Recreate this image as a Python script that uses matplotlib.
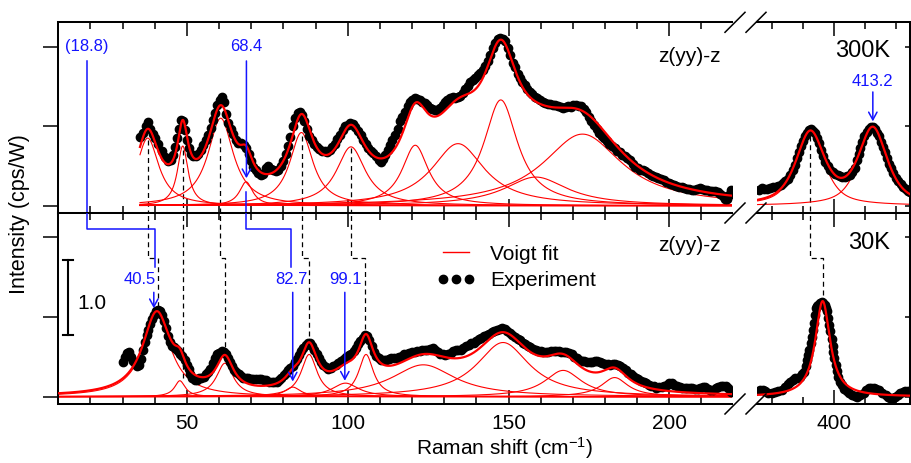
import numpy as np
import matplotlib
matplotlib.use('Agg')
import matplotlib.pyplot as plt
from matplotlib.lines import Line2D
from matplotlib.ticker import MultipleLocator, FixedLocator

plt.rcParams['font.family'] = ['Liberation Sans', 'DejaVu Sans']
plt.rcParams['mathtext.fontset'] = 'custom'
plt.rcParams['mathtext.rm'] = 'Liberation Sans'
plt.rcParams['mathtext.it'] = 'Liberation Sans:italic'
plt.rcParams['mathtext.bf'] = 'Liberation Sans:bold'

exp300_low = [
    (35.4, 0.86), (36.4, 0.92), (37.2, 1.00), (37.8, 1.05), (38.5, 0.96), (39.3, 0.90), (40.1, 0.85),
    (41.1, 0.77), (42.1, 0.69), (43.2, 0.61), (44.2, 0.56), (45.0, 0.58), (45.7, 0.64), (46.4, 0.74),
    (47.0, 0.85), (47.6, 0.97), (48.3, 1.08), (48.9, 1.07), (49.4, 0.95), (49.9, 0.83), (50.6, 0.72),
    (51.3, 0.65), (52.0, 0.62), (52.8, 0.62), (53.5, 0.65), (54.3, 0.70), (55.1, 0.76), (55.9, 0.82),
    (56.6, 0.89), (57.4, 0.98), (58.1, 1.08), (58.8, 1.17), (59.5, 1.26), (60.2, 1.33), (60.8, 1.37),
    (61.5, 1.30), (62.3, 1.15), (62.9, 1.04), (63.6, 0.96), (64.4, 0.90), (65.2, 0.83), (66.0, 0.79),
    (66.8, 0.79), (67.6, 0.76), (68.4, 0.73), (69.2, 0.65), (69.9, 0.56), (70.6, 0.49), (71.4, 0.45),
    (72.2, 0.41), (72.9, 0.39), (73.7, 0.40), (74.5, 0.47), (75.2, 0.50), (76.0, 0.46), (76.8, 0.45),
    (77.6, 0.44), (78.4, 0.45), (79.2, 0.50), (80.0, 0.56), (80.8, 0.65), (81.5, 0.75), (82.2, 0.86),
    (83.0, 1.00), (83.7, 1.10), (84.4, 1.16), (85.1, 1.18), (85.8, 1.14), (86.5, 1.07), (87.2, 0.96),
    (88.0, 0.88), (88.8, 0.83), (89.6, 0.78), (90.4, 0.74), (91.2, 0.71), (92.0, 0.69), (92.8, 0.69),
    (93.6, 0.68), (94.4, 0.70), (95.2, 0.74), (96.0, 0.78), (96.8, 0.84), (97.6, 0.89), (98.4, 0.95),
    (99.2, 1.00), (100.0, 1.02), (100.8, 1.04), (101.6, 1.03), (102.4, 0.99), (103.2, 0.94), (104.0, 0.89),
    (104.8, 0.83), (105.6, 0.78), (106.4, 0.73), (107.2, 0.69), (108.0, 0.66), (108.8, 0.63), (109.6, 0.58),
    (110.3, 0.55), (111.0, 0.59), (111.7, 0.64), (112.4, 0.70), (113.1, 0.76), (113.9, 0.83), (114.7, 0.89),
    (115.5, 0.97), (116.2, 1.06), (117.0, 1.12), (117.8, 1.18), (118.6, 1.25), (119.3, 1.30), (120.1, 1.33),
    (120.9, 1.35), (121.7, 1.34), (122.4, 1.33), (123.2, 1.31), (124.0, 1.29), (124.8, 1.26), (125.5, 1.23),
    (126.3, 1.21), (127.1, 1.20), (127.9, 1.20), (128.7, 1.23), (129.5, 1.26), (130.2, 1.30), (131.0, 1.33),
    (131.8, 1.36), (132.6, 1.37), (133.4, 1.36), (134.2, 1.37), (135.0, 1.38), (135.8, 1.42), (136.6, 1.47),
    (137.3, 1.51), (138.1, 1.55), (138.9, 1.58), (139.7, 1.61), (140.5, 1.64), (141.2, 1.67), (142.0, 1.71),
    (142.8, 1.76), (143.6, 1.82), (144.3, 1.90), (145.1, 1.98), (145.9, 2.05), (146.7, 2.09), (147.4, 2.11),
    (148.2, 2.10), (149.0, 2.07), (149.7, 1.98), (150.5, 1.90), (151.3, 1.80), (152.0, 1.74), (152.8, 1.66),
    (153.6, 1.60), (154.3, 1.55), (155.1, 1.52), (155.9, 1.47), (156.6, 1.43), (157.4, 1.40), (158.2, 1.37),
    (159.0, 1.35), (159.8, 1.33), (160.6, 1.31), (161.4, 1.29), (162.2, 1.28), (163.0, 1.28), (163.8, 1.27),
    (164.6, 1.26), (165.4, 1.25), (166.2, 1.24), (167.0, 1.23), (167.8, 1.24), (168.6, 1.25), (169.4, 1.24),
    (170.2, 1.26), (171.0, 1.26), (171.8, 1.25), (172.6, 1.25), (173.4, 1.22), (174.2, 1.18), (175.0, 1.12),
    (175.8, 1.06), (176.6, 1.01), (177.4, 0.97), (178.2, 0.92), (179.0, 0.88), (179.8, 0.85), (180.6, 0.81),
    (181.4, 0.78), (182.2, 0.75), (183.0, 0.72), (183.8, 0.69), (184.6, 0.67), (185.4, 0.64), (186.2, 0.62),
    (187.0, 0.60), (187.8, 0.57), (188.6, 0.52), (189.4, 0.49), (190.2, 0.47), (191.0, 0.45), (191.8, 0.45),
    (192.6, 0.43), (193.4, 0.41), (194.2, 0.39), (195.0, 0.37), (195.8, 0.36), (196.6, 0.35), (197.4, 0.34),
    (198.2, 0.32), (199.0, 0.30), (199.8, 0.29), (200.6, 0.27), (201.4, 0.26), (202.2, 0.25), (203.0, 0.24),
    (203.8, 0.23), (204.6, 0.22), (205.4, 0.21), (206.2, 0.21), (207.0, 0.20), (207.8, 0.20), (208.6, 0.21),
    (209.4, 0.22), (210.2, 0.21), (211.0, 0.20), (211.8, 0.20), (212.6, 0.19), (213.4, 0.19), (214.2, 0.18),
    (215.0, 0.17), (215.8, 0.15), (216.6, 0.12), (217.3, 0.09), (218.0, 0.08), (218.7, 0.13), (219.2, 0.20),
]
exp300_high = [
    (375.8, 0.20), (376.6, 0.22), (377.4, 0.21), (378.3, 0.21), (379.2, 0.22), (380.1, 0.24), (381.0, 0.24),
    (381.8, 0.25), (382.6, 0.26), (383.4, 0.28), (384.2, 0.31), (385.0, 0.34), (385.7, 0.39), (386.5, 0.45),
    (387.2, 0.51), (387.9, 0.60), (388.5, 0.68), (389.1, 0.75), (389.7, 0.81), (390.4, 0.88), (391.0, 0.92),
    (391.7, 0.95), (392.4, 0.96), (393.1, 0.94), (393.8, 0.91), (394.4, 0.85), (395.0, 0.79), (395.7, 0.70),
    (396.4, 0.62), (397.1, 0.55), (397.8, 0.50), (398.6, 0.45), (399.4, 0.42), (400.2, 0.40), (401.0, 0.38),
    (401.8, 0.37), (402.6, 0.36), (403.4, 0.36), (404.2, 0.37), (405.0, 0.39), (405.8, 0.42), (406.5, 0.47),
    (407.2, 0.57), (407.8, 0.65), (408.4, 0.73), (409.0, 0.80), (409.7, 0.88), (410.4, 0.93), (411.1, 0.97),
    (411.8, 0.99), (412.5, 0.99), (413.2, 0.97), (413.9, 0.92), (414.5, 0.87), (415.1, 0.80), (415.7, 0.74),
    (416.3, 0.67), (416.9, 0.60), (417.5, 0.53), (418.2, 0.47), (419.0, 0.41), (419.8, 0.35), (420.6, 0.31),
    (421.4, 0.27), (422.2, 0.24), (423.0, 0.21), (423.8, 0.18), (424.3, 0.17),
]
exp30_low = [
    (30.2, 0.44), (30.8, 0.50), (31.4, 0.55), (32.1, 0.56), (32.7, 0.50), (33.3, 0.45), (33.9, 0.42),
    (34.5, 0.39), (35.1, 0.40), (35.7, 0.47), (36.3, 0.58), (36.9, 0.69), (37.5, 0.77), (38.0, 0.84),
    (38.6, 0.91), (39.2, 0.97), (39.8, 1.03), (40.4, 1.07), (41.1, 1.09), (41.7, 1.08), (42.3, 1.03),
    (42.9, 0.95), (43.5, 0.86), (44.1, 0.76), (44.8, 0.69), (45.4, 0.64), (46.0, 0.62), (46.7, 0.60),
    (47.3, 0.57), (48.0, 0.54), (48.6, 0.51), (49.3, 0.46), (49.9, 0.40), (50.5, 0.35), (51.1, 0.29),
    (51.7, 0.24), (52.4, 0.21), (53.1, 0.21), (53.8, 0.23), (54.5, 0.24), (55.2, 0.25), (55.9, 0.28),
    (56.6, 0.31), (57.3, 0.35), (58.0, 0.42), (58.7, 0.48), (59.4, 0.53), (60.1, 0.55), (60.8, 0.57),
    (61.5, 0.56), (62.2, 0.53), (62.8, 0.48), (63.4, 0.44), (64.0, 0.39), (64.7, 0.34), (65.4, 0.31),
    (66.1, 0.28), (66.8, 0.26), (67.5, 0.24), (68.3, 0.23), (69.1, 0.23), (69.9, 0.22), (70.7, 0.22),
    (71.5, 0.22), (72.3, 0.22), (73.1, 0.22), (73.9, 0.21), (74.7, 0.21), (75.5, 0.19), (76.3, 0.18),
    (77.1, 0.18), (77.9, 0.19), (78.7, 0.21), (79.4, 0.24), (80.1, 0.27), (80.8, 0.30), (81.5, 0.33),
    (82.2, 0.36), (82.9, 0.39), (83.6, 0.43), (84.3, 0.47), (85.0, 0.52), (85.6, 0.57), (86.2, 0.61),
    (86.9, 0.65), (87.6, 0.67), (88.3, 0.67), (89.0, 0.64), (89.6, 0.59), (90.3, 0.54), (91.0, 0.48),
    (91.7, 0.43), (92.4, 0.40), (93.1, 0.37), (93.9, 0.35), (94.7, 0.36), (95.5, 0.38), (96.3, 0.40),
    (97.1, 0.42), (97.9, 0.45), (98.7, 0.47), (99.5, 0.50), (100.3, 0.52), (101.1, 0.54), (101.8, 0.57),
    (102.5, 0.61), (103.2, 0.66), (103.9, 0.70), (104.6, 0.74), (105.3, 0.77), (106.0, 0.76), (106.7, 0.71),
    (107.4, 0.63), (108.1, 0.56), (108.8, 0.51), (109.6, 0.48), (110.4, 0.46), (111.2, 0.46), (112.0, 0.46),
    (112.8, 0.47), (113.6, 0.48), (114.4, 0.48), (115.2, 0.49), (116.0, 0.50), (116.8, 0.51), (117.6, 0.53),
    (118.4, 0.54), (119.2, 0.55), (120.0, 0.56), (120.8, 0.56), (121.6, 0.57), (122.4, 0.57), (123.2, 0.58),
    (124.0, 0.58), (124.8, 0.59), (125.6, 0.60), (126.4, 0.61), (127.2, 0.59), (128.0, 0.56), (128.8, 0.54),
    (129.6, 0.53), (130.4, 0.52), (131.2, 0.53), (132.0, 0.55), (132.8, 0.57), (133.6, 0.58), (134.4, 0.58),
    (135.2, 0.59), (136.0, 0.61), (136.8, 0.63), (137.6, 0.65), (138.4, 0.67), (139.2, 0.68), (140.0, 0.70),
    (140.8, 0.72), (141.6, 0.74), (142.4, 0.76), (143.2, 0.77), (144.0, 0.79), (144.8, 0.81), (145.6, 0.82),
    (146.4, 0.84), (147.2, 0.85), (148.0, 0.86), (148.8, 0.85), (149.6, 0.83), (150.4, 0.80), (151.2, 0.78),
    (152.0, 0.75), (152.8, 0.73), (153.6, 0.71), (154.4, 0.68), (155.2, 0.66), (156.0, 0.64), (156.8, 0.62),
    (157.6, 0.60), (158.4, 0.58), (159.2, 0.57), (160.0, 0.57), (160.8, 0.565), (161.6, 0.56), (162.4, 0.565),
    (163.2, 0.57), (164.0, 0.57), (164.8, 0.57), (165.6, 0.57), (166.4, 0.565), (167.2, 0.565), (168.0, 0.56),
    (168.8, 0.55), (169.6, 0.53), (170.4, 0.50), (171.2, 0.48), (172.0, 0.46), (172.8, 0.45), (173.6, 0.45),
    (174.4, 0.44), (175.2, 0.44), (176.0, 0.44), (176.8, 0.45), (177.6, 0.45), (178.4, 0.44), (179.2, 0.42),
    (180.0, 0.41), (180.8, 0.41), (181.6, 0.40), (182.4, 0.41), (183.2, 0.41), (184.0, 0.40), (184.8, 0.38),
    (185.6, 0.355), (186.4, 0.33), (187.2, 0.30), (188.0, 0.28), (188.8, 0.26), (189.6, 0.24), (190.4, 0.22),
    (191.2, 0.20), (192.0, 0.19), (192.8, 0.17), (193.6, 0.15), (194.4, 0.14), (195.2, 0.13), (196.0, 0.115),
    (196.8, 0.12), (197.6, 0.12), (198.4, 0.13), (199.2, 0.15), (200.0, 0.17), (200.8, 0.175), (201.6, 0.15),
    (202.4, 0.13), (203.2, 0.12), (204.0, 0.11), (204.8, 0.105), (205.6, 0.11), (206.4, 0.115), (207.2, 0.11),
    (208.0, 0.10), (208.8, 0.10), (209.6, 0.11), (210.4, 0.12), (211.2, 0.12), (212.0, 0.10), (212.8, 0.085),
    (213.6, 0.09), (214.4, 0.11), (215.2, 0.125), (216.0, 0.13), (216.8, 0.14), (217.6, 0.13), (218.4, 0.115),
    (219.2, 0.06),
]
exp30_high = [
    (376.0, 0.09), (376.8, 0.08), (377.6, 0.065), (378.6, 0.05), (379.7, 0.045), (380.8, 0.055), (381.9, 0.065),
    (383.0, 0.09), (384.0, 0.125), (384.9, 0.16), (385.7, 0.19), (386.5, 0.21), (387.3, 0.23), (388.1, 0.24),
    (388.9, 0.25), (389.6, 0.28), (390.2, 0.31), (390.7, 0.38), (391.1, 0.46), (391.5, 0.52), (391.9, 0.585),
    (392.3, 0.67), (392.7, 0.75), (393.1, 0.84), (393.4, 0.92), (393.8, 1.02), (394.1, 1.11), (394.5, 1.14),
    (394.8, 1.15), (395.3, 1.17), (395.9, 1.19), (396.4, 1.17), (397.0, 1.15), (397.4, 1.11), (397.7, 1.07),
    (398.0, 0.99), (398.3, 0.90), (398.7, 0.82), (399.1, 0.73), (399.4, 0.64), (399.6, 0.565), (400.0, 0.48),
    (400.5, 0.40), (400.9, 0.32), (401.3, 0.25), (401.8, 0.19), (402.3, 0.145), (403.1, 0.10), (404.0, 0.065),
    (404.8, 0.04), (405.6, 0.025), (406.5, 0.01), (407.3, 0.0), (408.4, 0.02), (409.5, 0.045), (410.3, 0.08),
    (411.1, 0.105), (411.9, 0.115), (412.7, 0.115), (413.5, 0.10), (414.3, 0.086), (415.4, 0.05), (416.5, 0.025),
    (417.3, 0.0), (418.1, -0.015), (418.9, -0.015), (419.7, -0.007), (420.5, 0.02), (421.3, 0.045),
    (422.1, 0.055), (422.9, 0.065), (423.7, 0.065), (424.3, 0.07),
]

# ---------------- Voigt-fit components (centre, height, half width, Lorentz fraction) ----------------
fit300_low_centre = [37.8, 48.7, 60.5, 68.4, 85.6, 101.0, 121.0, 134.3, 147.6, 158.5, 173.0]
fit300_low_height = [0.85, 0.75, 1.10, 0.30, 0.92, 0.74, 0.76, 0.78, 1.33, 0.36, 0.90]
fit300_low_width = [4.2, 2.0, 4.8, 2.5, 4.4, 5.5, 5.0, 10.0, 6.4, 12.0, 15.0]
fit300_low_eta = [1.0] * 11

fit300_high_centre = [392.2, 412.4]
fit300_high_height = [0.90, 0.95]
fit300_high_width = [5.5, 5.5]
fit300_high_eta = [0.7, 0.7]

fit30_low_centre = [40.6, 47.8, 61.8, 82.9, 88.0, 99.3, 105.7, 123.5, 148.3, 167.0, 183.0]
fit30_low_height = [1.03, 0.20, 0.42, 0.12, 0.53, 0.17, 0.53, 0.40, 0.68, 0.33, 0.24]
fit30_low_width = [5.3, 2.0, 3.2, 3.0, 3.0, 5.0, 2.8, 12.0, 10.0, 7.0, 5.0]
fit30_low_eta = [1.0] * 11

fit30_high_centre = [396.2]
fit30_high_height = [1.20]
fit30_high_width = [2.9]
fit30_high_eta = [1.0]

# mode links between 300 K and 30 K (x in top panel, x in bottom panel)
link_low_top = [38.0, 48.7, 60.3, 85.7, 101.1]
link_low_bottom = [41.0, 48.7, 61.7, 88.0, 105.5]
link_low_ystart = [0.83, 0.70, 0.85, 0.87, 0.72]
link_low_yend = [1.12, 0.21, 0.57, 0.69, 0.80]
link_high_top = [392.0]
link_high_bottom = [396.3]
link_high_ystart = [0.87]
link_high_yend = [1.21]

BLUE = '#1414ff'
RED = '#ff0000'
W, H = 912, 463


def voigt(x, c, h, w, eta):
    u = (x - c) / w
    return h * (eta / (1.0 + u ** 2) + (1.0 - eta) * np.exp(-np.log(2.0) * u ** 2))


def fig_rect(x0, y0, x1, y1):
    return [x0 / W, 1 - y1 / H, (x1 - x0) / W, (y1 - y0) / H]


fig = plt.figure(figsize=(W / 100, H / 100), dpi=100)
ax_tl = fig.add_axes(fig_rect(58.3, 22.3, 732, 213))
ax_tr = fig.add_axes(fig_rect(757, 22.3, 910, 213))
ax_bl = fig.add_axes(fig_rect(58.3, 213, 732, 404))
ax_br = fig.add_axes(fig_rect(757, 213, 910, 404))

YLIM = (-0.092, 2.306)


def draw_segment(ax, exp, centres, heights, widths, etas, xr):
    ex = [p[0] for p in exp]
    ey = [p[1] for p in exp]
    ax.plot(ex, ey, ls='none', marker='o', ms=6, color='black', zorder=3)
    x = np.linspace(xr[0], xr[1], 1500)
    total = np.zeros_like(x)
    for c, h, w, e in zip(centres, heights, widths, etas):
        comp = voigt(x, c, h, w, e)
        total += comp
        if len(centres) > 1:
            ax.plot(x, comp, color=RED, lw=0.8, zorder=2)
    ax.plot(x, total, color=RED, lw=1.6, zorder=4)


draw_segment(ax_tl, exp300_low, fit300_low_centre, fit300_low_height, fit300_low_width,
             fit300_low_eta, (35.4, 219.4))
draw_segment(ax_tr, exp300_high, fit300_high_centre, fit300_high_height, fit300_high_width,
             fit300_high_eta, (375.2, 424.4))
draw_segment(ax_bl, exp30_low, fit30_low_centre, fit30_low_height, fit30_low_width,
             fit30_low_eta, (10.0, 219.4))
draw_segment(ax_br, exp30_high, fit30_high_centre, fit30_high_height, fit30_high_width,
             fit30_high_eta, (375.2, 424.4))


def style(ax, side, labels):
    ax.set_ylim(*YLIM)
    for sp in ax.spines.values():
        sp.set_linewidth(1.45)
    ax.set_yticks([0, 1, 2])
    if side == 'left':
        ax.set_xlim(10, 219.5)
        ax.spines['right'].set_visible(False)
        ax.yaxis.set_ticks_position('left')
        ax.tick_params(axis='y', direction='out', length=10.8, width=1.1, labelleft=False)
        ax.xaxis.set_major_locator(MultipleLocator(50))
        ax.xaxis.set_minor_locator(MultipleLocator(10))
    else:
        ax.set_xlim(375, 424.4)
        ax.spines['left'].set_visible(False)
        ax.yaxis.set_ticks_position('right')
        ax.tick_params(axis='y', direction='in', length=3.6, width=1.1, labelright=False)
        ax.xaxis.set_major_locator(FixedLocator([400]))
        ax.xaxis.set_minor_locator(FixedLocator([380, 390, 410, 420]))
    ax.tick_params(axis='x', which='major', direction='in', length=10, width=1.1,
                   top=True, bottom=True, labelbottom=labels, labelsize=15, pad=7)
    ax.tick_params(axis='x', which='minor', direction='in', length=5, width=1.1,
                   top=True, bottom=True)


style(ax_tl, 'left', False)
style(ax_tr, 'right', False)
style(ax_bl, 'left', True)
style(ax_br, 'right', True)

# dashed links
dash = dict(color='black', lw=0.9, ls=(0, (4, 3)), zorder=1)
for xt, xb, ys, ye in zip(link_low_top, link_low_bottom, link_low_ystart, link_low_yend):
    ax_tl.plot([xt, xt], [ys, -0.3], **dash)
    ax_bl.plot([xt, xt, xb, xb], [2.5, 1.74, 1.74, ye], **dash)
for xt, xb, ys, ye in zip(link_high_top, link_high_bottom, link_high_ystart, link_high_yend):
    ax_tr.plot([xt, xt], [ys, -0.3], **dash)
    ax_br.plot([xt, xt, xb, xb], [2.5, 1.74, 1.74, ye], **dash)


# blue annotations
def arrow(ax, x, y0, y1):
    ax.annotate('', xy=(x, y1), xytext=(x, y0),
                arrowprops=dict(arrowstyle='->,head_length=0.55,head_width=0.3', color=BLUE,
                                lw=1.1, shrinkA=0, shrinkB=0, mutation_scale=10), zorder=6)


bl = dict(color=BLUE, lw=1.1, zorder=6)
ax_tl.text(18.8, 2.0, '(18.8)', color=BLUE, fontsize=12, ha='center', va='center')
ax_tl.plot([18.8, 18.8], [1.82, -0.3], **bl)
ax_tl.text(68.5, 2.0, '68.4', color=BLUE, fontsize=12, ha='center', va='center')
arrow(ax_tl, 68.5, 1.82, 0.345)
ax_tl.plot([68.5, 68.5], [0.176, -0.3], **bl)

ax_bl.plot([18.8, 18.8, 40.1, 40.1], [2.5, 2.10, 2.10, 1.63], **bl)
ax_bl.text(40.4, 1.47, '40.5', color=BLUE, fontsize=12, ha='right', va='center')
arrow(ax_bl, 39.7, 1.31, 1.11)
ax_bl.plot([68.5, 68.5, 82.3, 82.3], [2.5, 2.10, 2.10, 1.63], **bl)
ax_bl.text(82.5, 1.47, '82.7', color=BLUE, fontsize=12, ha='center', va='center')
arrow(ax_bl, 82.9, 1.31, 0.19)
ax_bl.text(99.2, 1.47, '99.1', color=BLUE, fontsize=12, ha='center', va='center')
arrow(ax_bl, 99.1, 1.31, 0.20)

ax_tr.text(412.4, 1.56, '413.2', color=BLUE, fontsize=12, ha='center', va='center')
arrow(ax_tr, 412.4, 1.43, 1.06)

# labels
ax_tl.text(206.4, 1.874, 'z(yy)-z', fontsize=15, ha='center', va='center')
ax_bl.text(206.4, 1.90, 'z(yy)-z', fontsize=15, ha='center', va='center')
ax_tr.text(417.9, 1.95, '300K', fontsize=17, ha='right', va='center')
ax_br.text(417.9, 1.93, '30K', fontsize=17, ha='right', va='center')

# scale bar
ax_bl.plot([13.1, 13.1], [0.774, 1.715], color='black', lw=1.5)
ax_bl.plot([11.55, 14.6], [0.774, 0.774], color='black', lw=1.5)
ax_bl.plot([11.55, 14.6], [1.715, 1.715], color='black', lw=1.5)
ax_bl.text(15.8, 1.17, '1.0', fontsize=15, ha='left', va='center')

# legend
handles = [Line2D([], [], color=RED, lw=1.0),
           Line2D([], [], ls='none', marker='o', ms=6, color='black')]
ax_bl.legend(handles, ['Voigt fit', 'Experiment'], loc='upper left',
             bbox_to_anchor=((436.7 - 58.3) / 673.7, (404 - 244.5) / 191.0),
             frameon=False, fontsize=15, borderpad=0, borderaxespad=0,
             handlelength=1.84, handletextpad=0.72, labelspacing=0.38, numpoints=3)

# axis labels
fig.text(504 / W, 1 - 455 / H, 'Raman shift (cm$^{-1}$)', fontsize=15, ha='center', va='baseline')
fig.text(20 / W, 1 - 214 / H, 'Intensity (cps/W)', fontsize=15.5, ha='center', va='center',
         rotation=90)

# axis-break marks
for yc in (22.3, 213, 404):
    for xc in (735, 756):
        fig.add_artist(Line2D([(xc - 10) / W, (xc + 10) / W], [1 - (yc + 10) / H, 1 - (yc - 10) / H],
                              color='black', lw=1.1, transform=fig.transFigure))

fig.savefig('out.png', dpi=100)
